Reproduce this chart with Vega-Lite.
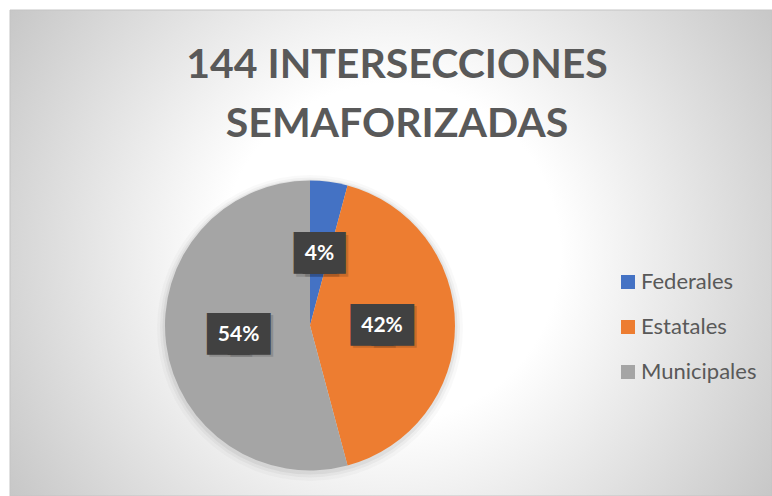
{
  "$schema": "https://vega.github.io/schema/vega-lite/v6.json",
  "width": 762,
  "height": 486,
  "autosize": {"type": "none"},
  "padding": {"left": 10, "top": 10, "right": 0, "bottom": 0},
  "background": "#ffffff",
  "config": {"view": {"stroke": null}},
  "title": {
    "text": ["144 INTERSECCIONES", "SEMAFORIZADAS"],
    "font": "Lato",
    "fontSize": 41,
    "fontWeight": "bold",
    "color": "#595959",
    "anchor": "middle",
    "baseline": "alphabetic",
    "lineHeight": 59,
    "offset": -168,
    "dx": 6
  },
  "datasets": {
    "fondo": [{"capa": "fondo"}],
    "semaforos": [
      {"categoria": "Federales", "proporcion": 0.041667, "orden": 1},
      {"categoria": "Estatales", "proporcion": 0.416667, "orden": 2},
      {"categoria": "Municipales", "proporcion": 0.541667, "orden": 3}
    ]
  },
  "layer": [
    {
      "data": {"name": "fondo"},
      "mark": {
        "type": "rect",
        "fill": {
          "gradient": "radial",
          "x1": 0.5, "y1": 0.5, "r1": 0,
          "x2": 0.5, "y2": 0.5, "r2": 0.6,
          "stops": [
            {"offset": 0, "color": "#ffffff"},
            {"offset": 0.37, "color": "#ffffff"},
            {"offset": 1, "color": "#c6c6c6"}
          ]
        },
        "stroke": "#c4c4c4",
        "strokeWidth": 1
      },
      "encoding": {}
    },
    {
      "data": {"name": "fondo"},
      "mark": {"type": "arc", "radius": 153, "x": 300, "y": 318, "fill": "#000000", "opacity": 0.025},
      "encoding": {}
    },
    {
      "data": {"name": "fondo"},
      "mark": {"type": "arc", "radius": 150, "x": 300, "y": 317.5, "fill": "#000000", "opacity": 0.035},
      "encoding": {}
    },
    {
      "data": {"name": "fondo"},
      "mark": {"type": "arc", "radius": 147.5, "x": 300, "y": 317, "fill": "#000000", "opacity": 0.05},
      "encoding": {}
    },
    {
      "data": {"name": "semaforos"},
      "mark": {"type": "arc", "radius": 145, "x": 300, "y": 315.5},
      "encoding": {
        "theta": {"field": "proporcion", "type": "quantitative", "stack": true},
        "order": {"field": "orden", "type": "quantitative"},
        "color": {
          "field": "categoria",
          "type": "nominal",
          "scale": {
            "domain": ["Federales", "Estatales", "Municipales"],
            "range": ["#4472C4", "#ED7D31", "#A5A5A5"]
          },
          "legend": {
            "title": null,
            "orient": "none",
            "legendX": 607,
            "legendY": 261,
            "padding": 0,
            "symbolType": "square",
            "symbolSize": 196,
            "symbolStrokeWidth": 0,
            "labelFont": "Lato",
            "labelFontSize": 22,
            "labelColor": "#595959",
            "labelOffset": 2,
            "labelLimit": 200,
            "rowPadding": 23
          }
        }
      }
    },
    {
      "data": {"name": "semaforos"},
      "mark": {
        "type": "text", "radius": 72, "x": 300, "y": 315.5,
        "font": "DejaVu Sans Mono", "fontSize": 35, "fill": "#000000", "opacity": 0.14,
        "text": "██", "dy": 2.5,
        "dx": {"expr": "datum.proporcion < 0.1 ? -2 : -8"}
      },
      "encoding": {
        "theta": {"field": "proporcion", "type": "quantitative", "stack": true},
        "order": {"field": "orden", "type": "quantitative"}
      }
    },
    {
      "data": {"name": "semaforos"},
      "mark": {
        "type": "text", "radius": 72, "x": 300, "y": 315.5,
        "font": "DejaVu Sans Mono", "fontSize": 35, "fill": "#000000", "opacity": 0.14,
        "text": "██", "dy": 2.5,
        "dx": {"expr": "datum.proporcion < 0.1 ? 7 : 13"}
      },
      "encoding": {
        "theta": {"field": "proporcion", "type": "quantitative", "stack": true},
        "order": {"field": "orden", "type": "quantitative"}
      }
    },
    {
      "data": {"name": "semaforos"},
      "mark": {
        "type": "text", "radius": 72, "x": 300, "y": 315.5,
        "font": "DejaVu Sans Mono", "fontSize": 35, "fill": "#414141",
        "text": "██",
        "dx": {"expr": "datum.proporcion < 0.1 ? -4.5 : -10.5"}
      },
      "encoding": {
        "theta": {"field": "proporcion", "type": "quantitative", "stack": true},
        "order": {"field": "orden", "type": "quantitative"}
      }
    },
    {
      "data": {"name": "semaforos"},
      "mark": {
        "type": "text", "radius": 72, "x": 300, "y": 315.5,
        "font": "DejaVu Sans Mono", "fontSize": 35, "fill": "#414141",
        "text": "██",
        "dx": {"expr": "datum.proporcion < 0.1 ? 4.5 : 10.5"}
      },
      "encoding": {
        "theta": {"field": "proporcion", "type": "quantitative", "stack": true},
        "order": {"field": "orden", "type": "quantitative"}
      }
    },
    {
      "data": {"name": "semaforos"},
      "mark": {
        "type": "text", "radius": 72, "x": 300, "y": 315.5,
        "font": "Lato", "fontSize": 21, "fontWeight": "bold", "fill": "#ffffff"
      },
      "encoding": {
        "theta": {"field": "proporcion", "type": "quantitative", "stack": true},
        "order": {"field": "orden", "type": "quantitative"},
        "text": {"field": "proporcion", "type": "quantitative", "format": ".0%"}
      }
    }
  ]
}
